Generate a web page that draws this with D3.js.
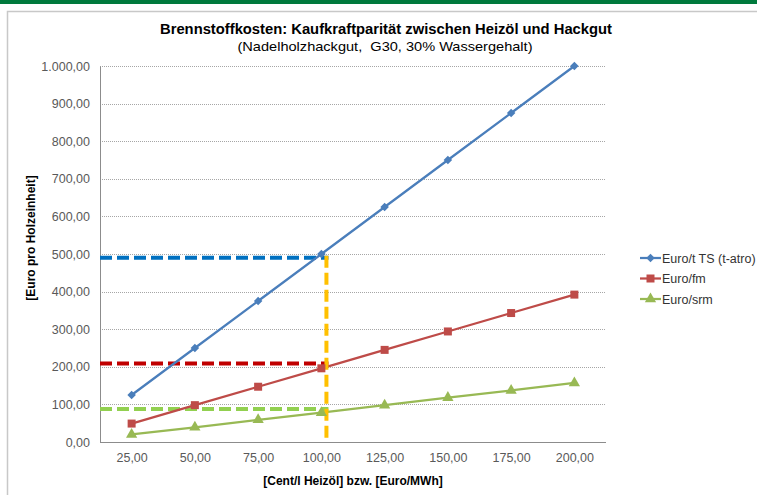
<!DOCTYPE html>
<html><head><meta charset="utf-8">
<script src="https://cdn.jsdelivr.net/npm/d3@7"></script>
<style>body{margin:0;background:#fff}svg{display:block;font-family:"Liberation Sans",Arial,sans-serif}</style>
</head><body><svg id="c" width="757" height="495"></svg>
<script>
const categories = [25, 50, 75, 100, 125, 150, 175, 200];
const euroTS  = [125, 250, 375, 500, 625, 750, 875, 1000];
const euroFm  = [49, 98, 147, 196, 245, 294, 343, 392];
const euroSrm = [20, 39, 59, 78, 98, 118, 137, 157];
const yTicks = [0, 100, 200, 300, 400, 500, 600, 700, 800, 900, 1000];
const seriesNames = ["Euro/t TS (t-atro)", "Euro/fm", "Euro/srm"];
const refX = 102;
const refLevels = [490, 209, 88];

const svg = d3.select("#c");
const L = 100, R = 606, T = 66, B = 442;
const x = d3.scaleLinear().domain([12.5, 212.5]).range([L, R]);
const y = d3.scaleLinear().domain([0, 1000]).range([B, T]);
const fmt = d3.formatLocale({decimal: ",", thousands: ".", grouping: [3], currency: ["", "€"]}).format(",.2f");

// top bar and panel border
svg.append("rect").attr("x",0).attr("y",0).attr("width",757).attr("height",4).attr("fill","#007a3d");
svg.append("path").attr("d","M7.5,495 V11.5 H757").attr("fill","none").attr("stroke","#c8c8c8").attr("stroke-width",1.5);

// gridlines
svg.append("g").selectAll("line").data(yTicks.filter(d=>d>0)).join("line")
  .attr("x1",L).attr("x2",R).attr("y1",d=>Math.round(y(d))+0.5).attr("y2",d=>Math.round(y(d))+0.5)
  .attr("stroke","#a6a6a6").attr("stroke-dasharray","1,1");

// y axis
const ya = svg.append("g").attr("transform",`translate(${L},0)`)
  .call(d3.axisLeft(y).tickValues(yTicks).tickFormat(fmt).tickSize(0).tickPadding(10));
ya.select(".domain").attr("stroke","#8c8c8c");
ya.selectAll("text").attr("font-size",12.5).attr("fill","#595959").attr("font-family","Liberation Sans, Arial, sans-serif");

// x axis
const xa = svg.append("g").attr("transform",`translate(0,${B})`)
  .call(d3.axisBottom(x).tickValues(categories).tickFormat(fmt).tickSize(0).tickPadding(11));
xa.select(".domain").attr("stroke","#8c8c8c").attr("d",`M${L},0.5H${R}`);
xa.selectAll("text").attr("font-size",12.5).attr("fill","#595959").attr("font-family","Liberation Sans, Arial, sans-serif");

// reference dashed lines
const refColors = ["#0070c0","#c00000","#92d050"];
refLevels.forEach((v,i)=>{
  svg.append("line").attr("x1",L).attr("x2",x(refX)+2).attr("y1",y(v)).attr("y2",y(v))
    .attr("stroke",refColors[i]).attr("stroke-width",4).attr("stroke-dasharray","12,5");
});

const colors = ["#4a7ebb","#be4b48","#98b954"];
const data = [euroTS, euroFm, euroSrm];
const line = d3.line().x((d,i)=>x(categories[i])).y(d=>y(d));
data.forEach((s,k)=>{
  svg.append("path").attr("d",line(s)).attr("fill","none").attr("stroke",colors[k]).attr("stroke-width",2.25);
});

// vertical yellow line
svg.append("line").attr("x1",x(refX)).attr("x2",x(refX)).attr("y1",y(refLevels[0])-2).attr("y2",B)
  .attr("stroke","#ffc000").attr("stroke-width",4).attr("stroke-dasharray","12,5");

const symbols = [d3.symbol().type(d3.symbolSquare).size(36), d3.symbol().type(d3.symbolSquare).size(64), d3.symbol().type(d3.symbolTriangle).size(55)];
const rot = [45, 0, 0];
data.forEach((s,k)=>{
  svg.append("g").selectAll("path").data(s).join("path")
    .attr("d",symbols[k]()).attr("transform",(d,i)=>`translate(${x(categories[i])},${y(d)}) rotate(${rot[k]})`)
    .attr("fill",colors[k]);
});

// legend
seriesNames.forEach((n,k)=>{
  const yy = 258 + k*20.5;
  const g = svg.append("g");
  g.append("line").attr("x1",640).attr("x2",661).attr("y1",yy).attr("y2",yy).attr("stroke",colors[k]).attr("stroke-width",2.25);
  g.append("path").attr("d",symbols[k]()).attr("transform",`translate(650.5,${yy}) rotate(${rot[k]})`).attr("fill",colors[k]);
  g.append("text").attr("x",662).attr("y",yy+4.5).attr("font-size",12.5).attr("fill","#333").text(n);
});

// titles
svg.append("text").attr("x",386).attr("y",34).attr("text-anchor","middle").attr("font-size",14.5).attr("font-weight","bold")
  .attr("fill","#000").attr("textLength",452).attr("lengthAdjust","spacingAndGlyphs")
  .text("Brennstoffkosten: Kaufkraftparität zwischen Heizöl und Hackgut");
svg.append("text").attr("x",385).attr("y",51).attr("text-anchor","middle").attr("font-size",13.5).attr("fill","#000")
  .style("white-space","pre")
  .attr("textLength",295).attr("lengthAdjust","spacingAndGlyphs")
  .text("(Nadelholzhackgut,  G30, 30% Wassergehalt)");
svg.append("text").attr("transform","translate(35,238) rotate(-90)").attr("text-anchor","middle").attr("font-size",12).attr("font-weight","bold")
  .text("[Euro pro Holzeinheit]");
svg.append("text").attr("x",353).attr("y",485).attr("text-anchor","middle").attr("font-size",12).attr("font-weight","bold")
  .text("[Cent/l Heizöl] bzw. [Euro/MWh]");
</script></body></html>
